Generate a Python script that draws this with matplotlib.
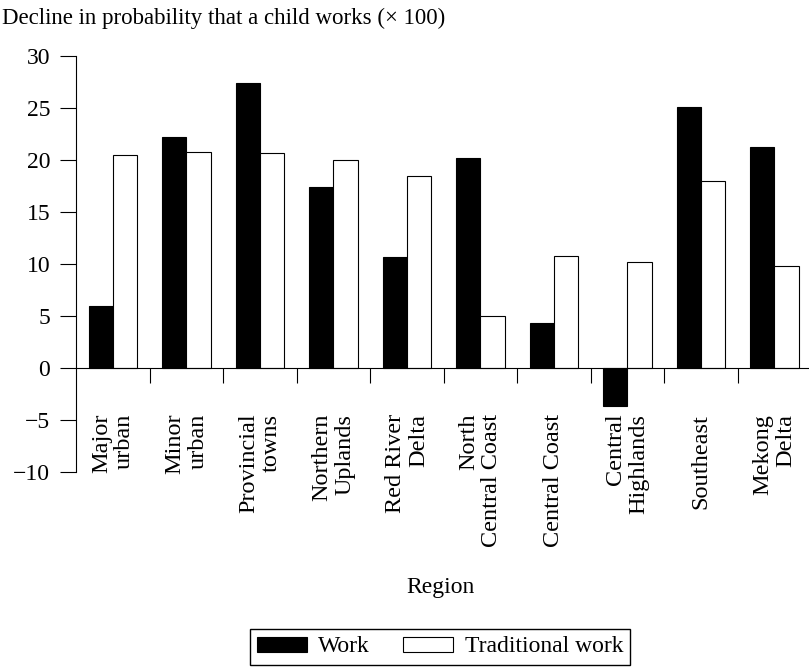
import numpy as np
import matplotlib
matplotlib.use('Agg')
import matplotlib.pyplot as plt

plt.rcParams['font.family'] = ['Liberation Serif', 'DejaVu Serif']

regions = ['Major\nurban', 'Minor\nurban', 'Provincial\ntowns', 'Northern\nUplands',
           'Red River\nDelta', 'North\nCentral Coast', 'Central Coast',
           'Central\nHighlands', 'Southeast', 'Mekong\nDelta']
work = [6.0, 22.2, 27.4, 17.4, 10.7, 20.2, 4.3, -3.7, 25.1, 21.2]
trad_work = [20.45, 20.8, 20.7, 20.0, 18.45, 5.0, 10.8, 10.2, 18.0, 9.8]
yticks = [-10, -5, 0, 5, 10, 15, 20, 25, 30]

fs = 16.5

fig = plt.figure(figsize=(8.09, 6.71), dpi=100)
ax = fig.add_axes([0.094, 0.2966, 0.906, 0.62])

x = np.arange(len(regions))
w = 0.33
ax.bar(x - w/2, work, w, color='black', edgecolor='black', linewidth=0.8, label='Work')
ax.bar(x + w/2, trad_work, w, color='white', edgecolor='black', linewidth=0.8, label='Traditional work')

ax.set_xlim(-0.5, 9.47)
ax.set_ylim(-10, 30)
ax.set_yticks(yticks)
ax.tick_params(axis='y', length=11.5, width=0.8, pad=7, labelsize=17)

ax.spines['top'].set_visible(False)
ax.spines['right'].set_visible(False)
ax.spines['bottom'].set_position(('data', 0))
for s in ['left', 'bottom']:
    ax.spines[s].set_linewidth(0.8)

# group boundaries as major ticks, names on minor ticks
ax.set_xticks(np.arange(0.5, 9, 1.0))
ax.set_xticklabels([])
ax.tick_params(axis='x', which='major', length=10.8, width=0.8)
ax.set_xticks(x, regions, minor=True)
ax.tick_params(axis='x', which='minor', length=0, pad=33, labelsize=17.5)
for lab in ax.get_xticklabels(minor=True):
    lab.set_rotation(90)
    lab.set_va('top')
    lab.set_ha('center')
    lab.set_multialignment('right')
    lab.set_linespacing(1.12)

fig.text(0.003, 1 - 18/671, 'Decline in probability that a child works (\u00d7 100)',
         fontsize=fs, va='center', ha='left')
fig.text(0.544, 1 - 588/671, 'Region', fontsize=17, ha='center', va='center')

fig.legend(loc='center', bbox_to_anchor=(0.544, 1 - 647/671), ncol=2, fontsize=17,
           frameon=True, fancybox=False, edgecolor='black', framealpha=1,
           handlelength=2.1, handleheight=0.6, handletextpad=0.5,
           columnspacing=1.4, borderpad=0.3)

fig.savefig('out.png', dpi=100)
